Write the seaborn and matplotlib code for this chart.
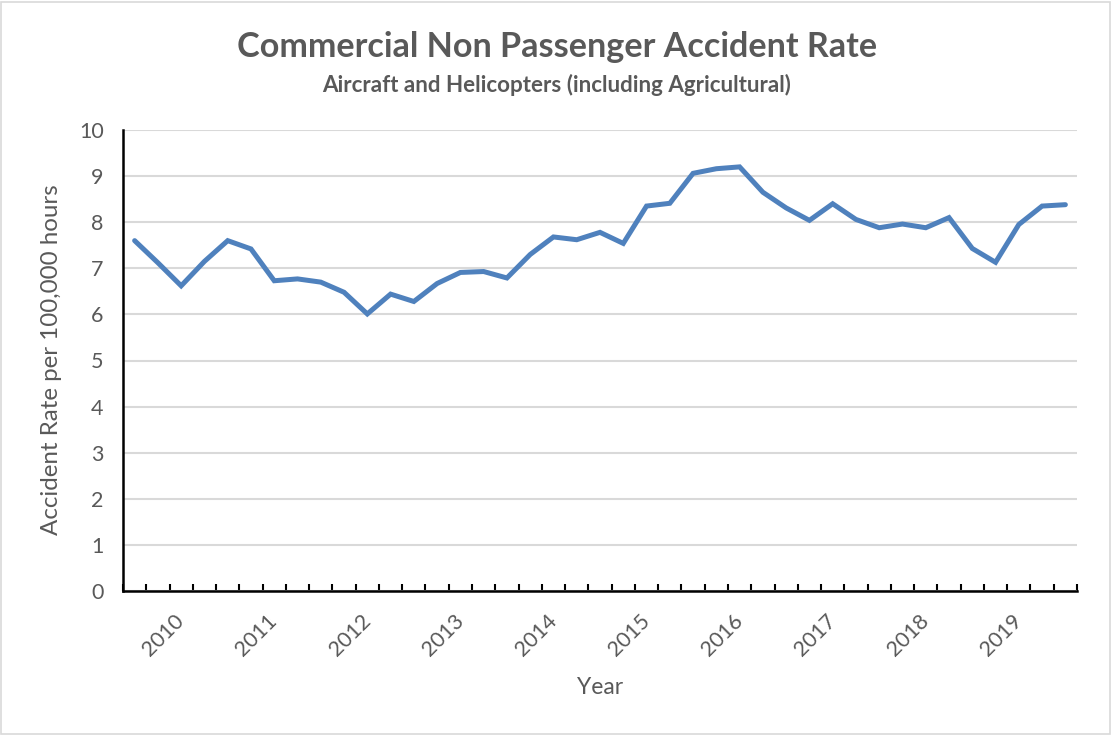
import numpy as np
import pandas as pd
import matplotlib
matplotlib.use("Agg")
import matplotlib.pyplot as plt
from matplotlib.ticker import FixedLocator, NullFormatter
from matplotlib.patches import Rectangle
import seaborn as sns

# ---------------- data ----------------
quarters = [f"{y} Q{q}" for y in range(2009, 2020) for q in range(1, 5)][2:43]
rate = [7.60, 7.12, 6.62, 7.15, 7.60, 7.42, 6.73, 6.77, 6.70, 6.48, 6.01,
        6.44, 6.28, 6.67, 6.91, 6.93, 6.79, 7.30, 7.68, 7.62, 7.78,
        7.54, 8.35, 8.41, 9.06, 9.16, 9.20, 8.65, 8.31, 8.04, 8.40,
        8.06, 7.88, 7.96, 7.88, 8.10, 7.43, 7.13, 7.95, 8.35, 8.38]
y_ticks = [0, 1, 2, 3, 4, 5, 6, 7, 8, 9, 10]
title = "Commercial Non Passenger Accident Rate"
subtitle = "Aircraft and Helicopters (including Agricultural)"
x_title = "Year"
y_title = "Accident Rate per 100,000 hours"

df = pd.DataFrame({"quarter": quarters, "rate": rate})
df["pos"] = np.arange(len(df))

# ---------------- style ----------------
sns.set_theme(style="white")
plt.rcParams["font.family"] = ["Lato", "DejaVu Sans"]
TXT = "#595959"
LINE = "#4F81BD"
GRID = "#D9D9D9"

W, H = 1112, 735
fig = plt.figure(figsize=(W / 100, H / 100), dpi=100)
ax = fig.add_axes([123 / W, 1 - 591 / H, (1077 - 123) / W, (591 - 130) / H])

sns.lineplot(data=df, x="pos", y="rate", ax=ax, color=LINE, linewidth=3.6,
             sort=False, legend=False, solid_joinstyle="miter")

ax.set_xlim(-0.5, len(df) - 0.5)
ax.set_ylim(0, 10)
ax.set_yticks(y_ticks)
ax.set_yticklabels([str(v) for v in y_ticks])
ax.yaxis.grid(True, color=GRID, linewidth=1.5)
ax.xaxis.grid(False)
ax.set_axisbelow(True)

# year labels on first quarter of each year
lab_pos = [p for p, q in zip(df["pos"], df["quarter"]) if q.endswith("Q1")]
lab_txt = [q.split()[0] for q in df["quarter"] if q.endswith("Q1")]
ax.set_xticks(lab_pos)
ax.set_xticklabels(lab_txt, rotation=45, ha="right", va="center",
                   rotation_mode="anchor")
ax.xaxis.set_minor_locator(FixedLocator(np.arange(-0.5, len(df), 1.0)))
ax.xaxis.set_minor_formatter(NullFormatter())
ax.tick_params(axis="x", which="major", length=0, pad=19.5, labelsize=15.5,
               labelcolor=TXT)
ax.tick_params(axis="x", which="minor", length=5, width=1.5, direction="in",
               color="black", bottom=True)
ax.tick_params(axis="y", which="both", length=0, pad=14, labelsize=15.5,
               labelcolor=TXT)

for s in ["top", "right"]:
    ax.spines[s].set_visible(False)
for s in ["left", "bottom"]:
    ax.spines[s].set_color("black")
    ax.spines[s].set_linewidth(1.8)

ax.set_xlabel("")
ax.set_ylabel("")

t1 = fig.text(557 / W, 1 - 47 / H, title, ha="center", va="center",
              fontsize=24, fontweight="bold", color=TXT)
t2 = fig.text(557 / W, 1 - 85 / H, subtitle, ha="center", va="center",
              fontsize=13, fontweight="bold", color=TXT)
t3 = fig.text(600 / W, 1 - 687 / H, x_title, ha="center", va="center",
              fontsize=16.5, color=TXT)
t4 = fig.text(52 / W, 1 - 360 / H, y_title, ha="center", va="center",
              rotation=90, fontsize=14.5, color=TXT)

# fit text widths to the reference
fig.canvas.draw()
r = fig.canvas.get_renderer()
for t, target, horiz in [(t1, 641, True), (t2, 469, True), (t4, 350, False)]:
    bb = t.get_window_extent(r)
    cur = bb.width if horiz else bb.height
    t.set_fontsize(t.get_fontsize() * target / cur)

fig.add_artist(Rectangle((1 / W, 1 / H), (W - 3) / W, (H - 3) / H,
                         transform=fig.transFigure, fill=False,
                         edgecolor=GRID, linewidth=1.2))

fig.savefig("out.png", dpi=100)
